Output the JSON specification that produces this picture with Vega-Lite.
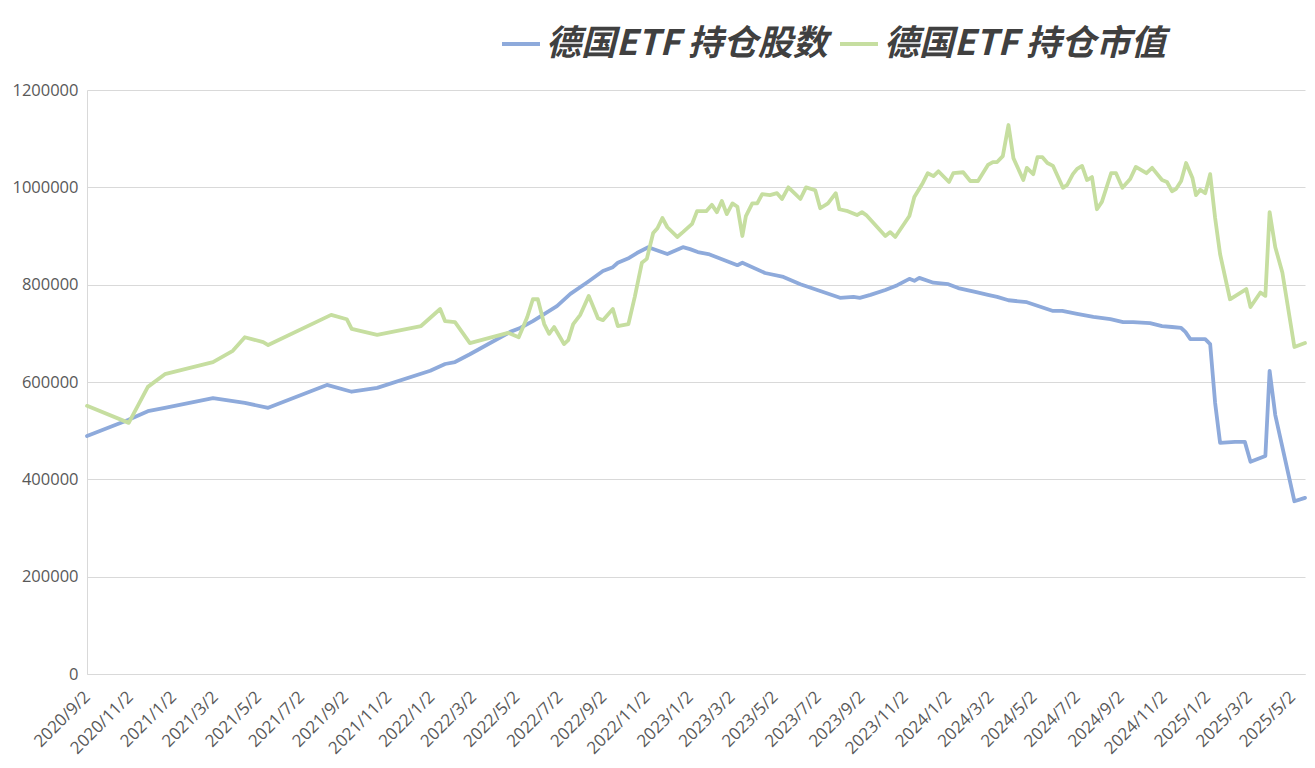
{
  "$schema": "https://vega.github.io/schema/vega-lite/v6.json",
  "width": 1218,
  "height": 584,
  "autosize": "none",
  "padding": {"left": 87, "top": 90, "right": 10, "bottom": 94},
  "background": "#ffffff",
  "config": {
    "view": {"stroke": null},
    "font": "Open Sans"
  },
  "datasets": {
    "shares": [
      {"date": "2020-09-02", "value": 489000},
      {"date": "2020-10-30", "value": 522000},
      {"date": "2020-11-27", "value": 540000},
      {"date": "2020-12-21", "value": 547000},
      {"date": "2021-02-27", "value": 567000},
      {"date": "2021-04-13", "value": 557000},
      {"date": "2021-05-16", "value": 547000},
      {"date": "2021-08-07", "value": 594000},
      {"date": "2021-09-11", "value": 580000},
      {"date": "2021-10-17", "value": 588000},
      {"date": "2021-12-31", "value": 623000},
      {"date": "2022-01-21", "value": 637000},
      {"date": "2022-02-04", "value": 641000},
      {"date": "2022-02-25", "value": 657000},
      {"date": "2022-04-23", "value": 703000},
      {"date": "2022-05-07", "value": 711000},
      {"date": "2022-05-25", "value": 725000},
      {"date": "2022-06-28", "value": 756000},
      {"date": "2022-07-17", "value": 781000},
      {"date": "2022-08-11", "value": 806000},
      {"date": "2022-09-01", "value": 828000},
      {"date": "2022-09-15", "value": 836000},
      {"date": "2022-09-22", "value": 845000},
      {"date": "2022-10-08", "value": 855000},
      {"date": "2022-10-19", "value": 865000},
      {"date": "2022-11-04", "value": 877000},
      {"date": "2022-12-01", "value": 863000},
      {"date": "2022-12-23", "value": 877000},
      {"date": "2023-01-02", "value": 873000},
      {"date": "2023-01-13", "value": 867000},
      {"date": "2023-01-28", "value": 863000},
      {"date": "2023-02-18", "value": 851000},
      {"date": "2023-03-10", "value": 840000},
      {"date": "2023-03-17", "value": 845000},
      {"date": "2023-04-18", "value": 824000},
      {"date": "2023-05-14", "value": 816000},
      {"date": "2023-06-07", "value": 801000},
      {"date": "2023-07-05", "value": 787000},
      {"date": "2023-08-02", "value": 773000},
      {"date": "2023-08-21", "value": 775000},
      {"date": "2023-08-30", "value": 773000},
      {"date": "2023-09-14", "value": 779000},
      {"date": "2023-10-05", "value": 789000},
      {"date": "2023-10-22", "value": 799000},
      {"date": "2023-11-08", "value": 812000},
      {"date": "2023-11-15", "value": 808000},
      {"date": "2023-11-22", "value": 814000},
      {"date": "2023-12-12", "value": 804000},
      {"date": "2024-01-02", "value": 801000},
      {"date": "2024-01-16", "value": 793000},
      {"date": "2024-02-09", "value": 785000},
      {"date": "2024-02-27", "value": 779000},
      {"date": "2024-03-11", "value": 775000},
      {"date": "2024-03-27", "value": 768000},
      {"date": "2024-04-22", "value": 764000},
      {"date": "2024-05-29", "value": 746000},
      {"date": "2024-06-11", "value": 746000},
      {"date": "2024-07-02", "value": 740000},
      {"date": "2024-07-25", "value": 734000},
      {"date": "2024-08-18", "value": 729000},
      {"date": "2024-09-05", "value": 723000},
      {"date": "2024-09-19", "value": 723000},
      {"date": "2024-10-13", "value": 721000},
      {"date": "2024-10-30", "value": 715000},
      {"date": "2024-11-13", "value": 713000},
      {"date": "2024-11-26", "value": 711000},
      {"date": "2024-12-02", "value": 703000},
      {"date": "2024-12-09", "value": 688000},
      {"date": "2024-12-30", "value": 688000},
      {"date": "2025-01-06", "value": 678000},
      {"date": "2025-01-13", "value": 557000},
      {"date": "2025-01-20", "value": 475000},
      {"date": "2025-02-10", "value": 477000},
      {"date": "2025-02-24", "value": 477000},
      {"date": "2025-03-04", "value": 436000},
      {"date": "2025-03-25", "value": 448000},
      {"date": "2025-03-31", "value": 623000},
      {"date": "2025-04-08", "value": 532000},
      {"date": "2025-05-05", "value": 355000},
      {"date": "2025-05-20", "value": 362000}
    ],
    "market": [
      {"date": "2020-09-02", "value": 551000},
      {"date": "2020-10-31", "value": 516000},
      {"date": "2020-11-27", "value": 590000},
      {"date": "2020-12-21", "value": 616000},
      {"date": "2021-02-27", "value": 641000},
      {"date": "2021-03-27", "value": 664000},
      {"date": "2021-04-13", "value": 692000},
      {"date": "2021-05-09", "value": 682000},
      {"date": "2021-05-16", "value": 676000},
      {"date": "2021-08-13", "value": 738000},
      {"date": "2021-09-04", "value": 729000},
      {"date": "2021-09-11", "value": 709000},
      {"date": "2021-10-17", "value": 697000},
      {"date": "2021-12-18", "value": 715000},
      {"date": "2022-01-14", "value": 750000},
      {"date": "2022-01-21", "value": 725000},
      {"date": "2022-02-04", "value": 723000},
      {"date": "2022-02-25", "value": 680000},
      {"date": "2022-04-20", "value": 701000},
      {"date": "2022-05-05", "value": 692000},
      {"date": "2022-05-17", "value": 733000},
      {"date": "2022-05-25", "value": 770000},
      {"date": "2022-06-01", "value": 770000},
      {"date": "2022-06-10", "value": 719000},
      {"date": "2022-06-17", "value": 699000},
      {"date": "2022-06-24", "value": 713000},
      {"date": "2022-07-08", "value": 678000},
      {"date": "2022-07-14", "value": 686000},
      {"date": "2022-07-21", "value": 719000},
      {"date": "2022-07-31", "value": 738000},
      {"date": "2022-08-12", "value": 777000},
      {"date": "2022-08-25", "value": 731000},
      {"date": "2022-09-01", "value": 727000},
      {"date": "2022-09-15", "value": 750000},
      {"date": "2022-09-22", "value": 715000},
      {"date": "2022-10-07", "value": 719000},
      {"date": "2022-10-16", "value": 775000},
      {"date": "2022-10-26", "value": 845000},
      {"date": "2022-11-02", "value": 853000},
      {"date": "2022-11-11", "value": 906000},
      {"date": "2022-11-17", "value": 916000},
      {"date": "2022-11-24", "value": 937000},
      {"date": "2022-12-01", "value": 918000},
      {"date": "2022-12-15", "value": 898000},
      {"date": "2022-12-23", "value": 908000},
      {"date": "2023-01-05", "value": 925000},
      {"date": "2023-01-12", "value": 951000},
      {"date": "2023-01-25", "value": 951000},
      {"date": "2023-02-02", "value": 964000},
      {"date": "2023-02-09", "value": 949000},
      {"date": "2023-02-16", "value": 972000},
      {"date": "2023-02-23", "value": 945000},
      {"date": "2023-03-03", "value": 967000},
      {"date": "2023-03-10", "value": 960000},
      {"date": "2023-03-17", "value": 900000},
      {"date": "2023-03-22", "value": 941000},
      {"date": "2023-03-31", "value": 967000},
      {"date": "2023-04-07", "value": 967000},
      {"date": "2023-04-14", "value": 986000},
      {"date": "2023-04-25", "value": 984000},
      {"date": "2023-05-05", "value": 988000},
      {"date": "2023-05-12", "value": 976000},
      {"date": "2023-05-21", "value": 1000000},
      {"date": "2023-05-31", "value": 986000},
      {"date": "2023-06-07", "value": 976000},
      {"date": "2023-06-15", "value": 1000000},
      {"date": "2023-06-28", "value": 994000},
      {"date": "2023-07-05", "value": 957000},
      {"date": "2023-07-16", "value": 967000},
      {"date": "2023-07-27", "value": 988000},
      {"date": "2023-08-01", "value": 955000},
      {"date": "2023-08-13", "value": 951000},
      {"date": "2023-08-26", "value": 943000},
      {"date": "2023-09-02", "value": 949000},
      {"date": "2023-09-08", "value": 943000},
      {"date": "2023-10-05", "value": 900000},
      {"date": "2023-10-12", "value": 908000},
      {"date": "2023-10-19", "value": 898000},
      {"date": "2023-11-08", "value": 941000},
      {"date": "2023-11-15", "value": 980000},
      {"date": "2023-11-27", "value": 1009000},
      {"date": "2023-12-04", "value": 1029000},
      {"date": "2023-12-12", "value": 1023000},
      {"date": "2023-12-19", "value": 1033000},
      {"date": "2024-01-03", "value": 1011000},
      {"date": "2024-01-09", "value": 1029000},
      {"date": "2024-01-23", "value": 1031000},
      {"date": "2024-02-02", "value": 1013000},
      {"date": "2024-02-13", "value": 1013000},
      {"date": "2024-02-27", "value": 1046000},
      {"date": "2024-03-05", "value": 1052000},
      {"date": "2024-03-11", "value": 1052000},
      {"date": "2024-03-19", "value": 1064000},
      {"date": "2024-03-27", "value": 1128000},
      {"date": "2024-04-03", "value": 1060000},
      {"date": "2024-04-17", "value": 1015000},
      {"date": "2024-04-22", "value": 1040000},
      {"date": "2024-05-01", "value": 1027000},
      {"date": "2024-05-07", "value": 1062000},
      {"date": "2024-05-14", "value": 1062000},
      {"date": "2024-05-21", "value": 1050000},
      {"date": "2024-05-29", "value": 1044000},
      {"date": "2024-06-12", "value": 999000},
      {"date": "2024-06-18", "value": 1005000},
      {"date": "2024-06-26", "value": 1027000},
      {"date": "2024-07-02", "value": 1038000},
      {"date": "2024-07-09", "value": 1044000},
      {"date": "2024-07-16", "value": 1015000},
      {"date": "2024-07-23", "value": 1021000},
      {"date": "2024-07-30", "value": 955000},
      {"date": "2024-08-06", "value": 970000},
      {"date": "2024-08-19", "value": 1029000},
      {"date": "2024-08-26", "value": 1029000},
      {"date": "2024-09-04", "value": 999000},
      {"date": "2024-09-15", "value": 1017000},
      {"date": "2024-09-23", "value": 1042000},
      {"date": "2024-10-08", "value": 1029000},
      {"date": "2024-10-16", "value": 1040000},
      {"date": "2024-10-30", "value": 1015000},
      {"date": "2024-11-06", "value": 1011000},
      {"date": "2024-11-13", "value": 992000},
      {"date": "2024-11-19", "value": 997000},
      {"date": "2024-11-26", "value": 1013000},
      {"date": "2024-12-03", "value": 1050000},
      {"date": "2024-12-12", "value": 1019000},
      {"date": "2024-12-17", "value": 984000},
      {"date": "2024-12-23", "value": 995000},
      {"date": "2024-12-30", "value": 988000},
      {"date": "2025-01-06", "value": 1027000},
      {"date": "2025-01-13", "value": 937000},
      {"date": "2025-01-20", "value": 863000},
      {"date": "2025-02-03", "value": 770000},
      {"date": "2025-02-26", "value": 791000},
      {"date": "2025-03-04", "value": 754000},
      {"date": "2025-03-18", "value": 784000},
      {"date": "2025-03-25", "value": 777000},
      {"date": "2025-03-31", "value": 949000},
      {"date": "2025-04-08", "value": 877000},
      {"date": "2025-04-18", "value": 825000},
      {"date": "2025-05-05", "value": 672000},
      {"date": "2025-05-20", "value": 680000}
    ]
  },
  "encoding": {
    "x": {
      "field": "date",
      "type": "temporal",
      "scale": {
        "type": "utc",
        "domain": [
          {"year": 2020, "month": 9, "date": 2, "utc": true},
          {"year": 2025, "month": 5, "date": 20, "utc": true}
        ]
      },
      "axis": {
        "title": null,
        "labelExpr": "utcFormat(datum.value, '%Y/%-m/%-d')",
        "values": [
          {"year": 2020, "month": 9, "date": 2, "utc": true},
          {"year": 2020, "month": 11, "date": 2, "utc": true},
          {"year": 2021, "month": 1, "date": 2, "utc": true},
          {"year": 2021, "month": 3, "date": 2, "utc": true},
          {"year": 2021, "month": 5, "date": 2, "utc": true},
          {"year": 2021, "month": 7, "date": 2, "utc": true},
          {"year": 2021, "month": 9, "date": 2, "utc": true},
          {"year": 2021, "month": 11, "date": 2, "utc": true},
          {"year": 2022, "month": 1, "date": 2, "utc": true},
          {"year": 2022, "month": 3, "date": 2, "utc": true},
          {"year": 2022, "month": 5, "date": 2, "utc": true},
          {"year": 2022, "month": 7, "date": 2, "utc": true},
          {"year": 2022, "month": 9, "date": 2, "utc": true},
          {"year": 2022, "month": 11, "date": 2, "utc": true},
          {"year": 2023, "month": 1, "date": 2, "utc": true},
          {"year": 2023, "month": 3, "date": 2, "utc": true},
          {"year": 2023, "month": 5, "date": 2, "utc": true},
          {"year": 2023, "month": 7, "date": 2, "utc": true},
          {"year": 2023, "month": 9, "date": 2, "utc": true},
          {"year": 2023, "month": 11, "date": 2, "utc": true},
          {"year": 2024, "month": 1, "date": 2, "utc": true},
          {"year": 2024, "month": 3, "date": 2, "utc": true},
          {"year": 2024, "month": 5, "date": 2, "utc": true},
          {"year": 2024, "month": 7, "date": 2, "utc": true},
          {"year": 2024, "month": 9, "date": 2, "utc": true},
          {"year": 2024, "month": 11, "date": 2, "utc": true},
          {"year": 2025, "month": 1, "date": 2, "utc": true},
          {"year": 2025, "month": 3, "date": 2, "utc": true},
          {"year": 2025, "month": 5, "date": 2, "utc": true}
        ],
        "labelAngle": -45,
        "labelAlign": "right",
        "labelBaseline": "middle",
        "labelPadding": 20,
        "labelFontSize": 17,
        "labelColor": "#595959",
        "labelOverlap": false,
        "labelBound": false,
        "labelFlush": false,
        "ticks": false,
        "grid": false,
        "domainColor": "#d9d9d9",
        "domainWidth": 1
      }
    },
    "y": {
      "field": "value",
      "type": "quantitative",
      "scale": {"domain": [0, 1200000], "nice": false, "zero": true},
      "axis": {
        "title": null,
        "values": [0, 200000, 400000, 600000, 800000, 1000000, 1200000],
        "format": "d",
        "labelFontSize": 16.5,
        "labelColor": "#595959",
        "labelPadding": 9,
        "ticks": false,
        "grid": true,
        "gridColor": "#d9d9d9",
        "gridWidth": 1,
        "domainColor": "#d9d9d9",
        "domainWidth": 1
      }
    }
  },
  "layer": [
    {
      "data": {"name": "shares"},
      "mark": {"type": "line", "strokeWidth": 3.8, "strokeJoin": "round", "strokeCap": "round"},
      "encoding": {
        "color": {
          "datum": "德国ETF 持仓股数",
          "type": "nominal",
          "scale": {
            "domain": ["德国ETF 持仓股数", "德国ETF 持仓市值"],
            "range": ["#8eaadb", "#c6dea0"]
          },
          "legend": {
            "title": null,
            "orient": "none",
            "direction": "horizontal",
            "legendX": 413,
            "legendY": -67,
            "symbolType": "stroke",
            "symbolSize": 1444,
            "symbolStrokeWidth": 4,
            "labelFont": "Noto Sans CJK SC",
            "labelFontSize": 35,
            "labelFontWeight": "bold",
            "labelFontStyle": "italic",
            "labelColor": "#404040",
            "labelOffset": 4,
            "columnPadding": 4,
            "labelLimit": 400
          }
        }
      }
    },
    {
      "data": {"name": "market"},
      "mark": {"type": "line", "strokeWidth": 3.8, "strokeJoin": "round", "strokeCap": "round"},
      "encoding": {
        "color": {"datum": "德国ETF 持仓市值", "type": "nominal"}
      }
    }
  ]
}
